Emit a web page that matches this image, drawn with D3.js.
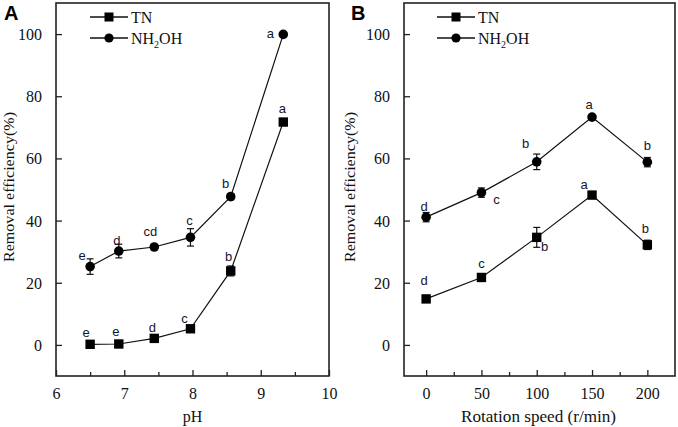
<!DOCTYPE html>
<html>
<head>
<meta charset="utf-8">
<script src="https://cdn.jsdelivr.net/npm/d3@7"></script>
<style>
html,body{margin:0;padding:0;background:#fff;}
svg{display:block;}
</style>
</head>
<body>
<svg id="chart" width="678" height="427"></svg>
<script>
// ---------- Data ----------
const phValues   = [6.5, 6.92, 7.44, 7.97, 8.56, 9.33];
const tnA        = [0.2, 0.3, 2.1, 5.2, 23.8, 71.7];
const tnAErr     = [0.4, 0.4, 0.5, 0.5, 1.6, 0.8];
const nhA        = [25.2, 30.2, 31.5, 34.6, 47.7, 99.9];
const nhAErr     = [2.5, 2.2, 0.6, 2.8, 1.0, 0.5];
const tnALetters = ["e", "e", "d", "c", "b", "a"];
const nhALetters = ["e", "d", "cd", "c", "b", "a"];

const speeds     = [0, 50, 100, 150, 200];
const tnB        = [14.8, 21.7, 34.6, 48.2, 32.2];
const tnBErr     = [0.5, 1.2, 3.2, 1.0, 1.5];
const nhB        = [41.1, 49.0, 58.9, 73.3, 58.8];
const nhBErr     = [1.5, 1.5, 2.5, 0.6, 1.5];
const tnBLetters = ["d", "c", "b", "a", "b"];
const nhBLetters = ["d", "c", "b", "a", "b"];

const yTicks   = [0, 20, 40, 60, 80, 100];
const xTicksA  = [6, 7, 8, 9, 10];
const xMinorA  = [6.5, 7.5, 8.5, 9.5];
const xTicksB  = [0, 50, 100, 150, 200];
const xMinorB  = [25, 75, 125, 175];

// ---------- Label offsets (layout only) ----------
const offNhA = [[-8,-11],[-2,-11],[-4,-16],[-1,-17],[-5,-13],[-13,-1]];
const offTnA = [[-4,-12],[-3,-12],[-2,-11],[-6,-10],[-2,-14],[-1,-14]];
const offNhB = [[-2,-11],[15,7],[-11,-18],[-3,-13],[0,-17]];
const offTnB = [[-2,-18],[0,-14],[8,9],[-8,-11],[-2,-16]];

const svg = d3.select("#chart");
const serif = "'Liberation Serif','Times New Roman',serif";
const sans = "'Liberation Sans',Arial,sans-serif";
const txtColor = "#111";

function panel(cfg) {
  const g = svg.append("g");
  const x = d3.scaleLinear().domain(cfg.xDomain).range([cfg.left, cfg.right]);
  const y = d3.scaleLinear().domain([-10, 110]).range([376, 3]);

  // frame
  g.append("rect").attr("x", cfg.left).attr("y", 3)
    .attr("width", cfg.right - cfg.left).attr("height", 373)
    .attr("fill", "none").attr("stroke", "#222").attr("stroke-width", 1.6);

  // y axis (ticks inside)
  const yAxis = d3.axisLeft(y).tickValues(yTicks).tickSize(-6).tickPadding(14).tickFormat(d3.format("d"));
  const ya = g.append("g").attr("transform", `translate(${cfg.left},0)`).call(yAxis);
  ya.select(".domain").remove();
  ya.selectAll(".tick line").attr("stroke", "#222").attr("stroke-width", 1.3);
  ya.selectAll(".tick text").attr("font-family", serif).attr("font-size", 16)
    .attr("fill", txtColor).attr("dy", "0.34em");

  // x axis (ticks inside)
  const xAxis = d3.axisBottom(x).tickValues(cfg.xTicks).tickSize(-6).tickPadding(12).tickFormat(d3.format("d"));
  const xa = g.append("g").attr("transform", `translate(0,376)`).call(xAxis);
  xa.select(".domain").remove();
  xa.selectAll(".tick line").attr("stroke", "#222").attr("stroke-width", 1.3);
  xa.selectAll(".tick text").attr("font-family", serif).attr("font-size", 16)
    .attr("fill", txtColor);
  const xm = d3.axisBottom(x).tickValues(cfg.xMinor).tickSize(-4).tickFormat("");
  const xma = g.append("g").attr("transform", `translate(0,376)`).call(xm);
  xma.select(".domain").remove();
  xma.selectAll(".tick line").attr("stroke", "#222").attr("stroke-width", 1.3);

  // titles
  const xt = g.append("text").attr("x", (cfg.left + cfg.right) / 2 + cfg.xTitleDx).attr("y", 422)
    .attr("text-anchor", "middle").attr("font-family", serif).attr("font-size", 16)
    .attr("fill", txtColor).text(cfg.xTitle);
  if (cfg.xTitleLen) xt.attr("textLength", cfg.xTitleLen).attr("lengthAdjust", "spacingAndGlyphs");
  g.append("text")
    .attr("transform", `translate(${cfg.yTitleX},187) rotate(-90)`)
    .attr("text-anchor", "middle").attr("font-family", serif).attr("font-size", 15)
    .attr("textLength", 150).attr("lengthAdjust", "spacingAndGlyphs")
    .attr("fill", txtColor).text("Removal efficiency(%)");
  g.append("text").attr("x", cfg.labelX).attr("y", 20)
    .attr("font-family", sans).attr("font-weight", "bold").attr("font-size", 20)
    .attr("fill", "#000").text(cfg.label);

  const line = d3.line().x(d => x(d[0])).y(d => y(d[1]));

  function series(xs, vals, errs, letters, offs, shape) {
    const pts = xs.map((v, i) => [v, vals[i], errs[i], letters[i], offs[i]]);
    g.append("path").datum(pts).attr("d", line)
      .attr("fill", "none").attr("stroke", "#111").attr("stroke-width", 1.2);
    const eb = g.append("g");
    pts.forEach(p => {
      const px = x(p[0]);
      const y1 = y(p[1] + p[2]), y2 = y(p[1] - p[2]);
      eb.append("line").attr("x1", px).attr("x2", px).attr("y1", y1).attr("y2", y2)
        .attr("stroke", "#111").attr("stroke-width", 1.2);
      [y1, y2].forEach(yy => eb.append("line").attr("x1", px - 3.5).attr("x2", px + 3.5)
        .attr("y1", yy).attr("y2", yy).attr("stroke", "#111").attr("stroke-width", 1.2));
    });
    if (shape === "square") {
      g.selectAll(null).data(pts).enter().append("rect")
        .attr("x", d => x(d[0]) - 4.7).attr("y", d => y(d[1]) - 4.7)
        .attr("width", 9.4).attr("height", 9.4).attr("fill", "#000");
    } else {
      g.selectAll(null).data(pts).enter().append("circle")
        .attr("cx", d => x(d[0])).attr("cy", d => y(d[1])).attr("r", 4.8).attr("fill", "#000");
    }
    g.selectAll(null).data(pts).enter().append("text")
      .attr("x", d => x(d[0]) + d[4][0]).attr("y", d => y(d[1]) + d[4][1])
      .attr("text-anchor", "middle").attr("dominant-baseline", "central")
      .attr("font-family", sans).attr("font-size", 13).attr("fill", "#14142a")
      .text(d => d[3]);
  }

  series(cfg.xs, cfg.tn, cfg.tnErr, cfg.tnLetters, cfg.tnOff, "square");
  series(cfg.xs, cfg.nh, cfg.nhErr, cfg.nhLetters, cfg.nhOff, "circle");

  // legend
  const lg = g.append("g");
  [["square", 17, "TN"], ["circle", 38, "NH2OH"]].forEach(([shape, ly, name]) => {
    lg.append("line").attr("x1", cfg.legX).attr("x2", cfg.legX + 38)
      .attr("y1", ly).attr("y2", ly).attr("stroke", "#111").attr("stroke-width", 1.4);
    if (shape === "square") {
      lg.append("rect").attr("x", cfg.legX + 19 - 4.5).attr("y", ly - 4.5)
        .attr("width", 9).attr("height", 9).attr("fill", "#000");
    } else {
      lg.append("circle").attr("cx", cfg.legX + 19).attr("cy", ly).attr("r", 4.6).attr("fill", "#000");
    }
    const t = lg.append("text").attr("x", cfg.legX + 41).attr("y", ly + 5.5)
      .attr("font-family", serif).attr("font-size", 16).attr("fill", txtColor);
    if (name === "TN") {
      t.text("TN");
    } else {
      t.append("tspan").text("NH");
      t.append("tspan").attr("font-size", 10).attr("dy", 4).text("2");
      t.append("tspan").attr("dy", -4).text("OH");
    }
  });
}

panel({
  xDomain: [6, 10], left: 56, right: 329,
  xTicks: xTicksA, xMinor: xMinorA, xTitle: "pH", xTitleDx: 0, xTitleLen: 0,
  yTitleX: 14, label: "A", labelX: 4, legX: 90,
  xs: phValues, tn: tnA, tnErr: tnAErr, tnLetters: tnALetters, tnOff: offTnA,
  nh: nhA, nhErr: nhAErr, nhLetters: nhALetters, nhOff: offNhA
});
panel({
  xDomain: [-20, 225], left: 404, right: 675,
  xTicks: xTicksB, xMinor: xMinorB, xTitle: "Rotation speed (r/min)", xTitleDx: -1, xTitleLen: 155,
  yTitleX: 355, label: "B", labelX: 351, legX: 437,
  xs: speeds, tn: tnB, tnErr: tnBErr, tnLetters: tnBLetters, tnOff: offTnB,
  nh: nhB, nhErr: nhBErr, nhLetters: nhBLetters, nhOff: offNhB
});
</script>
</body>
</html>
